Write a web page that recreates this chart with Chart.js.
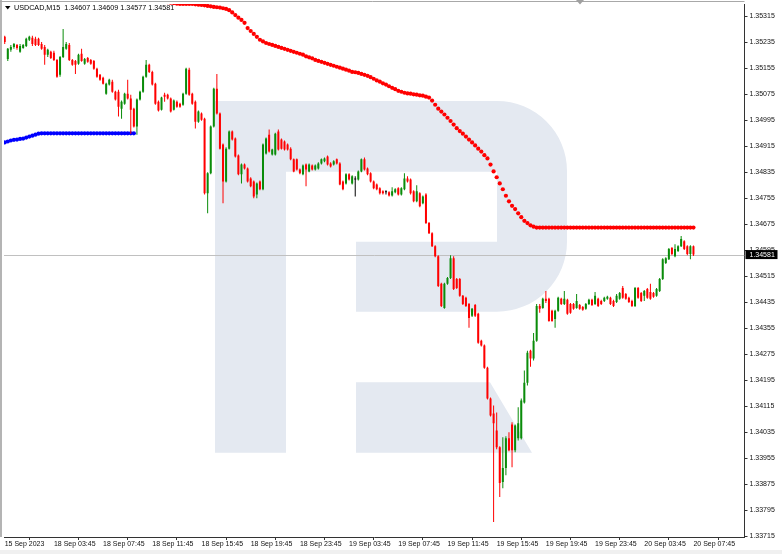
<!DOCTYPE html>
<html>
<head>
<meta charset="utf-8">
<script src="https://cdn.jsdelivr.net/npm/chart.js@4.4.1/dist/chart.umd.min.js"></script>
<style>
html,body{margin:0;padding:0;background:#fff;}
canvas{display:block;}
</style>
</head>
<body>
<canvas id="c" width="782" height="554"></canvas>
<script>
const symbolTitle = 'USDCAD,M15';
const xTickIndex = [0,16,32,48,64,80,96,112,128,144,160,176,192,208,224];
const xTickLabels = ['15 Sep 2023','18 Sep 03:45','18 Sep 07:45','18 Sep 11:45','18 Sep 15:45','18 Sep 19:45','18 Sep 23:45','19 Sep 03:45','19 Sep 07:45','19 Sep 11:45','19 Sep 15:45','19 Sep 19:45','19 Sep 23:45','20 Sep 03:45','20 Sep 07:45'];
const yTickValues = [1.35315,1.35235,1.35155,1.35075,1.34995,1.34915,1.34835,1.34755,1.34675,1.34595,1.34515,1.34435,1.34355,1.34275,1.34195,1.34115,1.34035,1.33955,1.33875,1.33795,1.33715];
const yMin = 1.33712, yMax = 1.35352;
const xMin = -0.23, xMax = 240.6;

const opens = [
1.35251,1.35183,1.35211,1.35220,1.35226,1.35205,1.35217,1.35223,1.35242,1.35248,
1.35245,1.35245,1.35229,1.35220,1.35196,1.35205,1.35202,1.35180,1.35134,1.35189,
1.35214,1.35226,1.35180,1.35177,1.35168,1.35199,1.35168,1.35186,1.35180,1.35177,
1.35153,1.35134,1.35125,1.35076,1.35104,1.35113,1.35082,1.35082,1.35030,1.35045,
1.35076,1.35061,1.35030,1.34975,1.35058,1.35082,1.35128,1.35165,1.35143,1.35107,
1.35051,1.35027,1.35073,1.35073,1.35061,1.35027,1.35051,1.35045,1.35042,1.35076,
1.35150,1.35076,1.35051,1.34990,1.35015,1.34999,1.34770,1.34831,1.34975,1.35091,
1.35015,1.34920,1.34806,1.34907,1.34960,1.34938,1.34886,1.34828,1.34858,1.34846,
1.34815,1.34806,1.34766,1.34806,1.34782,1.34892,1.34950,1.34889,1.34889,1.34960,
1.34935,1.34929,1.34920,1.34907,1.34874,1.34874,1.34843,1.34828,1.34858,1.34837,
1.34855,1.34843,1.34846,1.34861,1.34868,1.34883,1.34861,1.34858,1.34874,1.34861,
1.34806,1.34800,1.34828,1.34800,1.34812,1.34812,1.34837,1.34874,1.34846,1.34831,
1.34806,1.34797,1.34785,1.34776,1.34773,1.34773,1.34763,1.34773,1.34785,1.34766,
1.34782,1.34815,1.34812,1.34776,1.34745,1.34770,1.34739,1.34766,1.34678,1.34647,
1.34607,1.34576,1.34491,1.34417,1.34491,1.34509,1.34570,1.34506,1.34506,1.34454,
1.34448,1.34429,1.34393,1.34426,1.34399,1.34316,1.34301,1.34233,1.34138,1.34092,
1.34040,1.33988,1.33881,1.33924,1.34016,1.34058,1.33979,1.34016,1.34016,1.34126,
1.34187,1.34285,1.34261,1.34316,1.34423,1.34417,1.34445,1.34445,1.34408,1.34383,
1.34408,1.34445,1.34429,1.34442,1.34429,1.34429,1.34417,1.34426,1.34420,1.34414,
1.34429,1.34442,1.34429,1.34445,1.34438,1.34438,1.34445,1.34448,1.34438,1.34435,
1.34445,1.34478,1.34460,1.34448,1.34438,1.34423,1.34478,1.34463,1.34454,1.34475,
1.34466,1.34463,1.34454,1.34469,1.34506,1.34555,1.34567,1.34601,1.34576,1.34592,
1.34607,1.34622,1.34607,1.34583,1.34607];

const highs = [
1.35254,1.35217,1.35226,1.35232,1.35229,1.35229,1.35229,1.35248,1.35254,1.35254,
1.35251,1.35248,1.35235,1.35226,1.35214,1.35208,1.35208,1.35183,1.35192,1.35275,
1.35235,1.35232,1.35183,1.35180,1.35199,1.35214,1.35186,1.35189,1.35183,1.35180,
1.35156,1.35137,1.35128,1.35110,1.35122,1.35119,1.35085,1.35088,1.35055,1.35079,
1.35119,1.35073,1.35033,1.35061,1.35085,1.35131,1.35180,1.35168,1.35147,1.35110,
1.35055,1.35067,1.35079,1.35076,1.35064,1.35058,1.35055,1.35048,1.35079,1.35156,
1.35156,1.35079,1.35055,1.35024,1.35018,1.35002,1.34834,1.34978,1.35094,1.35137,
1.35018,1.34923,1.34911,1.34963,1.34963,1.34941,1.34889,1.34861,1.34861,1.34849,
1.34819,1.34809,1.34803,1.34809,1.34923,1.34941,1.34966,1.34907,1.34956,1.34966,
1.34938,1.34932,1.34923,1.34911,1.34877,1.34877,1.34846,1.34858,1.34861,1.34861,
1.34858,1.34858,1.34865,1.34877,1.34880,1.34886,1.34865,1.34871,1.34877,1.34865,
1.34809,1.34831,1.34831,1.34825,1.34822,1.34840,1.34877,1.34880,1.34849,1.34834,
1.34809,1.34800,1.34788,1.34779,1.34779,1.34776,1.34788,1.34785,1.34788,1.34788,
1.34831,1.34822,1.34815,1.34779,1.34794,1.34773,1.34763,1.34770,1.34681,1.34650,
1.34610,1.34579,1.34494,1.34494,1.34512,1.34579,1.34576,1.34509,1.34509,1.34457,
1.34451,1.34432,1.34417,1.34429,1.34402,1.34319,1.34304,1.34236,1.34141,1.34117,
1.34095,1.33991,1.34019,1.34022,1.34034,1.34065,1.34058,1.34111,1.34138,1.34224,
1.34285,1.34288,1.34340,1.34429,1.34429,1.34448,1.34469,1.34448,1.34411,1.34411,
1.34451,1.34448,1.34469,1.34445,1.34432,1.34432,1.34460,1.34429,1.34423,1.34432,
1.34445,1.34445,1.34466,1.34448,1.34442,1.34451,1.34454,1.34451,1.34442,1.34460,
1.34466,1.34484,1.34463,1.34451,1.34442,1.34481,1.34481,1.34466,1.34472,1.34478,
1.34491,1.34466,1.34478,1.34509,1.34570,1.34573,1.34601,1.34604,1.34613,1.34610,
1.34638,1.34625,1.34610,1.34610,1.34609];

const lows = [
1.35229,1.35177,1.35205,1.35214,1.35211,1.35202,1.35214,1.35220,1.35238,1.35223,
1.35223,1.35223,1.35211,1.35165,1.35189,1.35183,1.35177,1.35125,1.35128,1.35186,
1.35211,1.35177,1.35162,1.35137,1.35165,1.35174,1.35165,1.35171,1.35165,1.35150,
1.35125,1.35116,1.35104,1.35073,1.35101,1.35079,1.35055,1.35006,1.34999,1.35042,
1.35058,1.34953,1.34972,1.34950,1.35055,1.35079,1.35125,1.35140,1.35101,1.35042,
1.35021,1.35024,1.35051,1.35058,1.35018,1.35024,1.35033,1.35033,1.35039,1.35073,
1.35070,1.35042,1.34969,1.34987,1.34993,1.34766,1.34708,1.34828,1.34972,1.35012,
1.34904,1.34739,1.34803,1.34904,1.34932,1.34880,1.34825,1.34800,1.34843,1.34803,
1.34788,1.34754,1.34754,1.34779,1.34779,1.34889,1.34895,1.34886,1.34886,1.34901,
1.34904,1.34901,1.34901,1.34871,1.34834,1.34840,1.34828,1.34825,1.34791,1.34834,
1.34840,1.34840,1.34843,1.34858,1.34865,1.34855,1.34849,1.34855,1.34858,1.34794,
1.34779,1.34797,1.34809,1.34797,1.34760,1.34809,1.34834,1.34840,1.34825,1.34803,
1.34782,1.34779,1.34766,1.34766,1.34766,1.34760,1.34760,1.34770,1.34763,1.34763,
1.34779,1.34803,1.34766,1.34742,1.34742,1.34727,1.34736,1.34675,1.34644,1.34604,
1.34573,1.34481,1.34420,1.34414,1.34488,1.34506,1.34472,1.34475,1.34451,1.34426,
1.34420,1.34356,1.34389,1.34389,1.34307,1.34298,1.34230,1.34135,1.34083,1.33758,
1.33982,1.33835,1.33862,1.33902,1.33976,1.33927,1.33973,1.34009,1.34012,1.34123,
1.34178,1.34236,1.34255,1.34313,1.34402,1.34414,1.34432,1.34374,1.34374,1.34356,
1.34405,1.34426,1.34426,1.34396,1.34399,1.34411,1.34414,1.34411,1.34408,1.34411,
1.34426,1.34423,1.34426,1.34420,1.34426,1.34435,1.34442,1.34426,1.34420,1.34432,
1.34442,1.34445,1.34442,1.34432,1.34420,1.34420,1.34445,1.34435,1.34438,1.34445,
1.34442,1.34448,1.34451,1.34466,1.34503,1.34552,1.34564,1.34579,1.34573,1.34589,
1.34604,1.34595,1.34579,1.34567,1.34577];

const closes = [
1.35235,1.35214,1.35220,1.35229,1.35217,1.35223,1.35226,1.35245,1.35251,1.35229,
1.35226,1.35226,1.35214,1.35196,1.35211,1.35186,1.35180,1.35128,1.35189,1.35220,
1.35229,1.35180,1.35165,1.35165,1.35196,1.35177,1.35183,1.35174,1.35168,1.35153,
1.35128,1.35119,1.35107,1.35107,1.35119,1.35082,1.35058,1.35036,1.35051,1.35076,
1.35061,1.35027,1.34975,1.35058,1.35082,1.35128,1.35165,1.35143,1.35104,1.35045,
1.35024,1.35064,1.35067,1.35061,1.35021,1.35055,1.35036,1.35036,1.35076,1.35153,
1.35073,1.35045,1.34990,1.35021,1.34996,1.34770,1.34831,1.34975,1.35091,1.35015,
1.34907,1.34806,1.34907,1.34960,1.34935,1.34883,1.34828,1.34858,1.34846,1.34806,
1.34791,1.34760,1.34800,1.34782,1.34920,1.34938,1.34898,1.34904,1.34953,1.34904,
1.34907,1.34904,1.34904,1.34874,1.34837,1.34843,1.34831,1.34855,1.34843,1.34858,
1.34843,1.34855,1.34861,1.34874,1.34877,1.34858,1.34852,1.34868,1.34861,1.34797,
1.34782,1.34828,1.34812,1.34822,1.34812,1.34837,1.34874,1.34843,1.34828,1.34806,
1.34785,1.34782,1.34770,1.34770,1.34773,1.34763,1.34776,1.34782,1.34766,1.34785,
1.34815,1.34806,1.34770,1.34745,1.34776,1.34730,1.34760,1.34678,1.34647,1.34607,
1.34576,1.34484,1.34423,1.34491,1.34509,1.34570,1.34475,1.34478,1.34454,1.34429,
1.34423,1.34386,1.34414,1.34393,1.34310,1.34301,1.34233,1.34138,1.34086,1.34062,
1.33988,1.33878,1.33924,1.34016,1.33979,1.33979,1.34055,1.34062,1.34132,1.34187,
1.34279,1.34261,1.34316,1.34423,1.34414,1.34445,1.34438,1.34377,1.34377,1.34408,
1.34448,1.34429,1.34445,1.34399,1.34402,1.34414,1.34438,1.34414,1.34411,1.34429,
1.34442,1.34426,1.34454,1.34423,1.34429,1.34448,1.34451,1.34429,1.34423,1.34454,
1.34463,1.34448,1.34445,1.34435,1.34423,1.34478,1.34448,1.34438,1.34469,1.34448,
1.34445,1.34451,1.34475,1.34506,1.34567,1.34570,1.34598,1.34583,1.34598,1.34607,
1.34629,1.34598,1.34583,1.34607,1.34581];

// trend-dot indicator: blue below price (from bar 0), red above price (from bar 43)
const blueStart = 0;
const blueDots = [
1.34926,1.34929,1.34932,1.34934,1.34935,1.34937,1.34938,1.34941,1.34944,1.34947,
1.34950,1.34953,1.34954,1.34954,1.34954,1.34954,1.34954,1.34954,1.34954,1.34954,
1.34954,1.34954,1.34954,1.34954,1.34954,1.34954,1.34954,1.34954,1.34954,1.34954,
1.34954,1.34954,1.34954,1.34954,1.34954,1.34954,1.34954,1.34954,1.34954,1.34954,
1.34954,1.34954,1.34954];
const redStart = 43;
const redDots = [
1.35389,1.35386,1.35383,1.35379,1.35376,1.35373,1.35370,1.35367,1.35364,1.35361,
1.35358,1.35356,1.35355,1.35353,1.35352,1.35352,1.35352,1.35352,1.35352,1.35351,
1.35350,1.35349,1.35348,1.35346,1.35345,1.35343,1.35342,1.35341,1.35339,1.35337,
1.35333,1.35326,1.35318,1.35310,1.35303,1.35294,1.35278,1.35269,1.35260,1.35251,
1.35242,1.35237,1.35232,1.35229,1.35226,1.35223,1.35220,1.35217,1.35214,1.35211,
1.35208,1.35205,1.35202,1.35199,1.35196,1.35191,1.35188,1.35185,1.35180,1.35177,
1.35174,1.35171,1.35168,1.35165,1.35162,1.35159,1.35156,1.35153,1.35150,1.35147,
1.35143,1.35142,1.35140,1.35137,1.35134,1.35131,1.35127,1.35122,1.35117,1.35113,
1.35108,1.35104,1.35099,1.35094,1.35090,1.35085,1.35082,1.35079,1.35077,1.35076,
1.35074,1.35073,1.35071,1.35070,1.35067,1.35064,1.35055,1.35042,1.35030,1.35021,
1.35012,1.35002,1.34992,1.34981,1.34970,1.34961,1.34953,1.34944,1.34935,1.34926,
1.34917,1.34907,1.34898,1.34887,1.34877,1.34858,1.34837,1.34819,1.34800,1.34782,
1.34762,1.34745,1.34731,1.34721,1.34708,1.34696,1.34685,1.34678,1.34671,1.34667,
1.34664,1.34664,1.34664,1.34664,1.34664,1.34664,1.34664,1.34664,1.34664,1.34664,
1.34664,1.34664,1.34664,1.34664,1.34664,1.34664,1.34664,1.34664,1.34664,1.34664,
1.34664,1.34664,1.34664,1.34664,1.34664,1.34664,1.34664,1.34664,1.34664,1.34664,
1.34664,1.34664,1.34664,1.34664,1.34664,1.34664,1.34664,1.34664,1.34664,1.34664,
1.34664,1.34664,1.34664,1.34664,1.34664,1.34664,1.34664,1.34664,1.34664,1.34664,
1.34664,1.34664];

const GREEN = '#0a8c0a', RED = '#ff0000', DOJI = '#000000';
const FONT = "'Liberation Sans', Arial, sans-serif";
const idx = closes.map((_, i) => i);
const candleColors = idx.map(i => closes[i] > opens[i] ? GREEN : (closes[i] < opens[i] ? RED : DOJI));
const last = closes.length - 1;

const decor = {
  id: 'decor',
  beforeDatasetsDraw(chart) {
    const ctx = chart.ctx, a = chart.chartArea;
    ctx.save();
    ctx.beginPath();
    ctx.rect(a.left, a.top, a.right - a.left, a.bottom - a.top);
    ctx.clip();
    // watermark logo
    ctx.fillStyle = '#e4e9f1';
    ctx.beginPath();
    ctx.moveTo(215, 101); ctx.lineTo(497, 101);
    ctx.arcTo(567, 101, 567, 171, 70);
    ctx.lineTo(567, 241.7);
    ctx.arcTo(567, 311.7, 497, 311.7, 70);
    ctx.lineTo(356, 311.7); ctx.lineTo(356, 241.7); ctx.lineTo(497, 241.7);
    ctx.lineTo(497, 171.7); ctx.lineTo(286, 171.7); ctx.lineTo(286, 452.7);
    ctx.lineTo(215, 452.7); ctx.closePath();
    ctx.moveTo(356, 382.3); ctx.lineTo(490, 382.3); ctx.lineTo(532, 452.7); ctx.lineTo(356, 452.7); ctx.closePath();
    ctx.fill();
    // current price line
    const py = Math.round(chart.scales.y.getPixelForValue(closes[last])) + 0.5;
    ctx.strokeStyle = '#c0c0c0';
    ctx.lineWidth = 1;
    ctx.beginPath(); ctx.moveTo(a.left, py); ctx.lineTo(a.right, py); ctx.stroke();
    ctx.restore();
  },
  afterDraw(chart) {
    const ctx = chart.ctx, a = chart.chartArea;
    ctx.save();
    // frame
    ctx.fillStyle = '#b4b4b4';
    ctx.fillRect(0, 0, 2, a.bottom);
    ctx.strokeStyle = '#a8a8a8';
    ctx.lineWidth = 1;
    ctx.beginPath(); ctx.moveTo(0, 1.5); ctx.lineTo(a.right, 1.5); ctx.stroke();
    ctx.fillStyle = '#f0f0f0';
    ctx.fillRect(0, 550, 782, 4);
    // header
    ctx.fillStyle = '#000';
    ctx.beginPath(); ctx.moveTo(5, 6); ctx.lineTo(10.5, 6); ctx.lineTo(7.75, 9.5); ctx.closePath(); ctx.fill();
    ctx.font = '7.2px ' + FONT;
    ctx.textBaseline = 'middle';
    ctx.textAlign = 'left';
    const hdr = symbolTitle + '  ' + [opens[last], highs[last], lows[last], closes[last]].map(v => v.toFixed(5)).join(' ');
    ctx.fillText(hdr, 14, 8);
    // chart shift marker
    ctx.fillStyle = '#a0a0a0';
    ctx.beginPath(); ctx.moveTo(576, 0); ctx.lineTo(584, 0); ctx.lineTo(580, 4.5); ctx.closePath(); ctx.fill();
    // current price label
    const py = chart.scales.y.getPixelForValue(closes[last]);
    ctx.fillStyle = '#000';
    ctx.fillRect(a.right + 1, py - 4.5, 32, 9);
    ctx.fillStyle = '#fff';
    ctx.font = '7px ' + FONT;
    ctx.fillText(closes[last].toFixed(5), a.right + 5, py + 0.3);
    ctx.restore();
  }
};

new Chart(document.getElementById('c'), {
  type: 'bar',
  data: {
    datasets: [
      { type: 'bar', label: 'body', data: idx.map(i => ({ x: i, y: [opens[i], closes[i]] })),
        backgroundColor: candleColors, barThickness: 2, grouped: false, minBarLength: 1,
        inflateAmount: 0, borderWidth: 0, order: 0 },
      { type: 'bar', label: 'wick', data: idx.map(i => ({ x: i, y: [lows[i], highs[i]] })),
        backgroundColor: candleColors, barThickness: 1, grouped: false,
        inflateAmount: 0, borderWidth: 0, order: 1 },
      { type: 'line', label: 'blue', data: blueDots.map((v, k) => ({ x: k + blueStart, y: v })),
        showLine: false, pointRadius: 2.1, pointBorderWidth: 0, pointBackgroundColor: '#0000ff',
        borderColor: '#0000ff', clip: 0, order: 2 },
      { type: 'line', label: 'red', data: redDots.map((v, k) => ({ x: k + redStart, y: v })),
        showLine: false, pointRadius: 2.1, pointBorderWidth: 0, pointBackgroundColor: '#ff0000',
        borderColor: '#ff0000', clip: 0, order: 2 }
    ]
  },
  options: {
    responsive: false,
    animation: false,
    events: [],
    layout: { padding: { left: 2, top: 2, right: 0, bottom: 0 } },
    plugins: { legend: { display: false }, tooltip: { enabled: false }, title: { display: false } },
    scales: {
      x: {
        type: 'linear', min: xMin, max: xMax, offset: false,
        grid: { display: true, drawOnChartArea: false, drawTicks: true, tickLength: 3, color: '#333', lineWidth: 1 },
        border: { display: true, color: '#333', width: 1 },
        ticks: { autoSkip: false, maxRotation: 0, minRotation: 0, align: 'start', padding: 0,
          color: '#111', font: { family: FONT, size: 7 },
          callback: (v, i) => xTickLabels[i] },
        afterBuildTicks: ax => { ax.ticks = xTickIndex.map(v => ({ value: v })); },
        afterFit: ax => { ax.height = 17; ax.paddingLeft = 0; ax.paddingRight = 0; }
      },
      y: {
        type: 'linear', position: 'right', min: yMin, max: yMax,
        grid: { display: true, drawOnChartArea: false, drawTicks: true, tickLength: 3, color: '#333', lineWidth: 1 },
        border: { display: true, color: '#333', width: 1 },
        ticks: { autoSkip: false, padding: 2, color: '#111', font: { family: FONT, size: 7 },
          callback: v => Number(v).toFixed(5) },
        afterBuildTicks: ax => { ax.ticks = yTickValues.map(v => ({ value: v })); },
        afterFit: ax => { ax.width = 37.5; ax.paddingTop = 0; ax.paddingBottom = 0; }
      }
    }
  },
  plugins: [decor]
});
</script>
</body>
</html>
